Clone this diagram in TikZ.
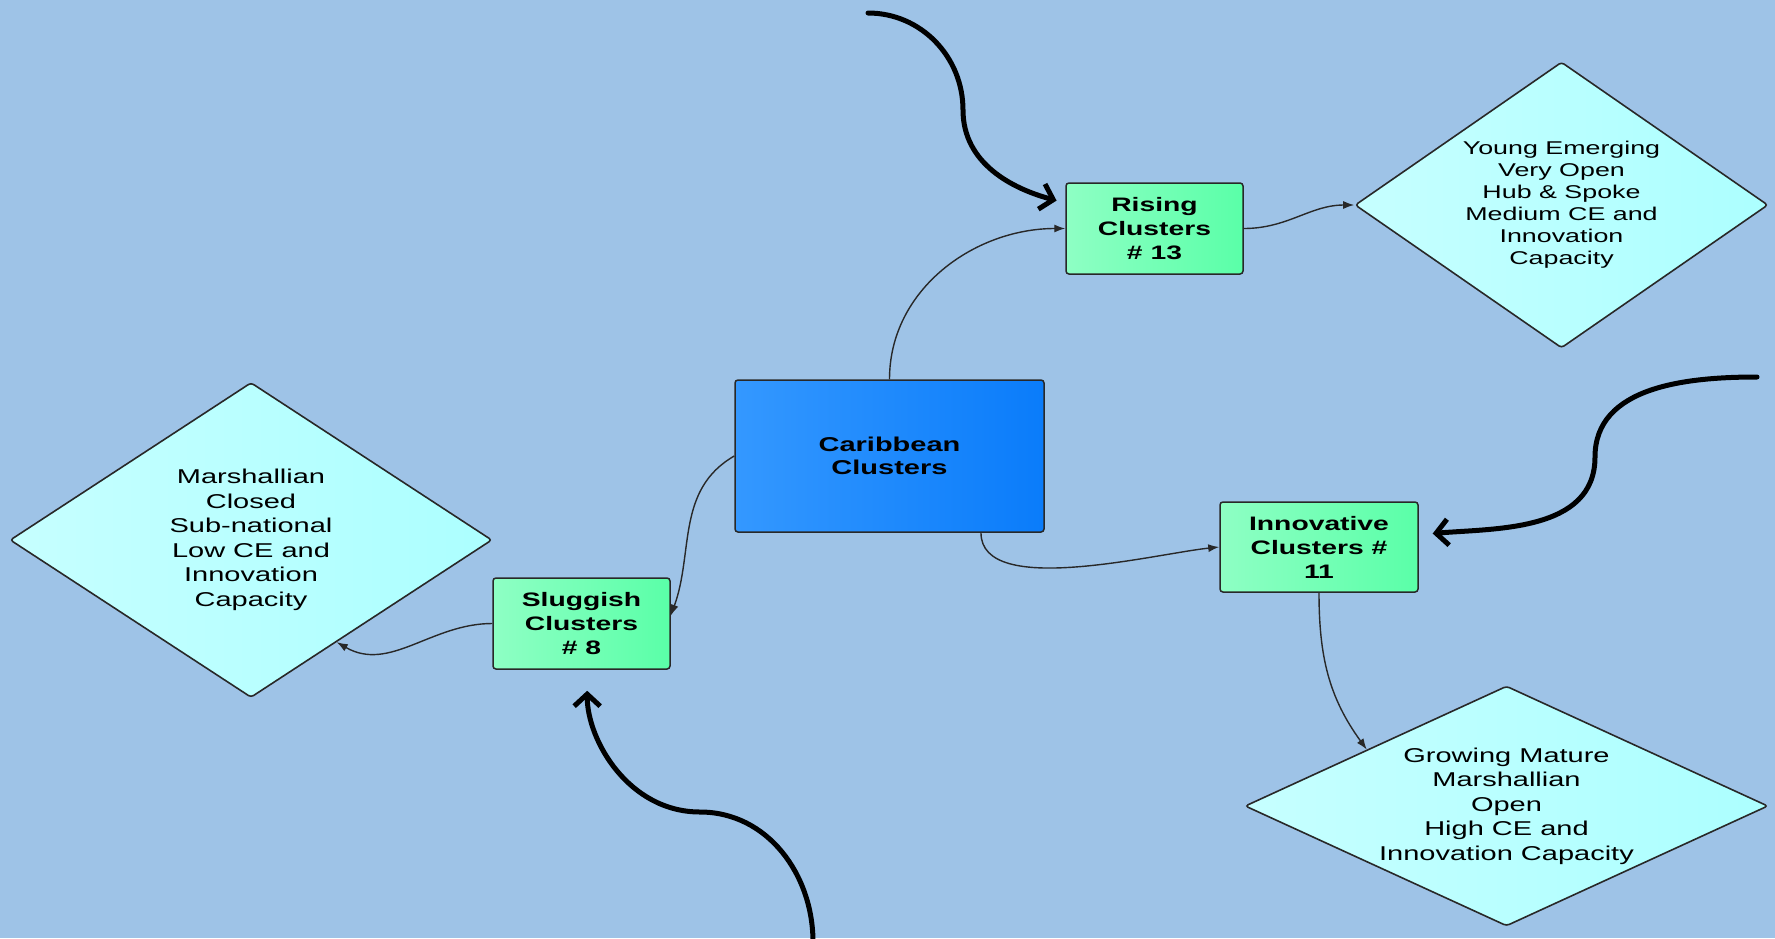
\documentclass[tikz,border=0pt]{standalone}
\usepackage{fontspec}
\newfontfamily\diagfont[FakeStretch=1.45]{Liberation Sans}
\usepackage{xcolor}
\usetikzlibrary{arrows.meta,shapes.geometric}
\definecolor{bgblue}{RGB}{158,195,231}
\definecolor{carleft}{RGB}{52,152,255}
\definecolor{carright}{RGB}{10,124,250}
\definecolor{grnleft}{RGB}{142,255,196}
\definecolor{grnright}{RGB}{90,255,168}
\definecolor{dmdleft}{RGB}{198,255,255}
\definecolor{dmdright}{RGB}{172,255,255}
\definecolor{edge}{RGB}{40,40,40}

\begin{document}
\begin{tikzpicture}[x=1pt,y=1pt,>={Latex[length=11pt,width=8pt]},
  mainbox/.style={draw=edge,line width=1.5pt,rounded corners=3pt,left color=carleft,right color=carright,align=center,minimum width=309pt,minimum height=152pt,font=\diagfont\bfseries\fontsize{20}{23}\selectfont},
  grnbox/.style={draw=edge,line width=1.5pt,rounded corners=3pt,left color=grnleft,right color=grnright,align=center,minimum width=177pt,minimum height=91pt,inner sep=2pt,font=\diagfont\bfseries\fontsize{19.5}{24}\selectfont},
  dmd/.style={diamond,draw=edge,line width=1.6pt,rounded corners=3pt,left color=dmdleft,right color=dmdright,align=center,inner sep=0pt,font=\diagfont\fontsize{18.5}{22}\selectfont},
  bigdmd/.style={dmd,font=\diagfont\fontsize{20}{24.5}\selectfont},
  thin/.style={->,line width=1.4pt,draw=edge},
  bigarrow/.style={line width=5pt,line cap=round,-{Straight Barb[length=12pt,width=26pt]}}]
\fill[bgblue] (0,0) rectangle (1775,-938);
\useasboundingbox (0,0) rectangle (1775,-938);
\node[mainbox] (car) at (889.5,-456) {Caribbean\\Clusters};
\node[grnbox] (rising) at (1154.5,-228.5) {Rising\\Clusters\\\# 13};
\node[grnbox] (slug) at (581.5,-623.5) {Sluggish\\Clusters\\\# 8};
\node[grnbox,minimum width=198pt,minimum height=90pt] (innov) at (1319,-547) {Innovative\\Clusters \#\\11};
\node[dmd,minimum width=413pt,minimum height=286pt,shape aspect=1.444] (young) at (1561.5,-205) {Young Emerging\\Very Open\\Hub \& Spoke\\Medium CE and\\Innovation\\Capacity};
\node[bigdmd,minimum width=482pt,minimum height=315pt,shape aspect=1.53] (marsh) at (251,-540) {Marshallian\\Closed\\Sub-national\\Low CE and\\Innovation\\Capacity};
\node[bigdmd,inner sep=-6pt,minimum width=523pt,minimum height=240pt,shape aspect=2.18] (grow) at (1506.5,-806) {Growing Mature\\Marshallian\\Open\\High CE and\\Innovation Capacity};
\draw[thin] (car.north) to[out=90,in=180] (rising.west);
\draw[thin] (car.west) to[out=210,in=70] (slug.5);
\draw[thin] (car.-40) to[out=-90,in=186,looseness=0.7] (innov.west);
\draw[thin] (rising.east) to[out=0,in=180] (young.west);
\draw[thin] (slug.west) to[out=180,in=-30] (marsh.-50);
\draw[thin] (innov.south) to[out=-90,in=126] (grow.158);
\coordinate (topA) at (868,-13);
\coordinate (topB) at (963,-110);
\coordinate (rgtA) at (1757,-377);
\coordinate (rgtB) at (1595,-457);
\coordinate (botA) at (813,-942);
\coordinate (botB) at (700,-812);
\draw[bigarrow,shorten >=9pt] (topA) to[out=0,in=90] (topB) to[out=-90,in=165] (rising.164);
\draw[bigarrow,shorten >=14pt] (rgtA) to[out=180,in=90] (rgtB) to[out=-90,in=5] (innov.7.5);
\draw[bigarrow,shorten >=21pt] (botA) to[out=90,in=0] (botB) to[out=180,in=-90] (slug.-83);
\end{tikzpicture}
\end{document}
